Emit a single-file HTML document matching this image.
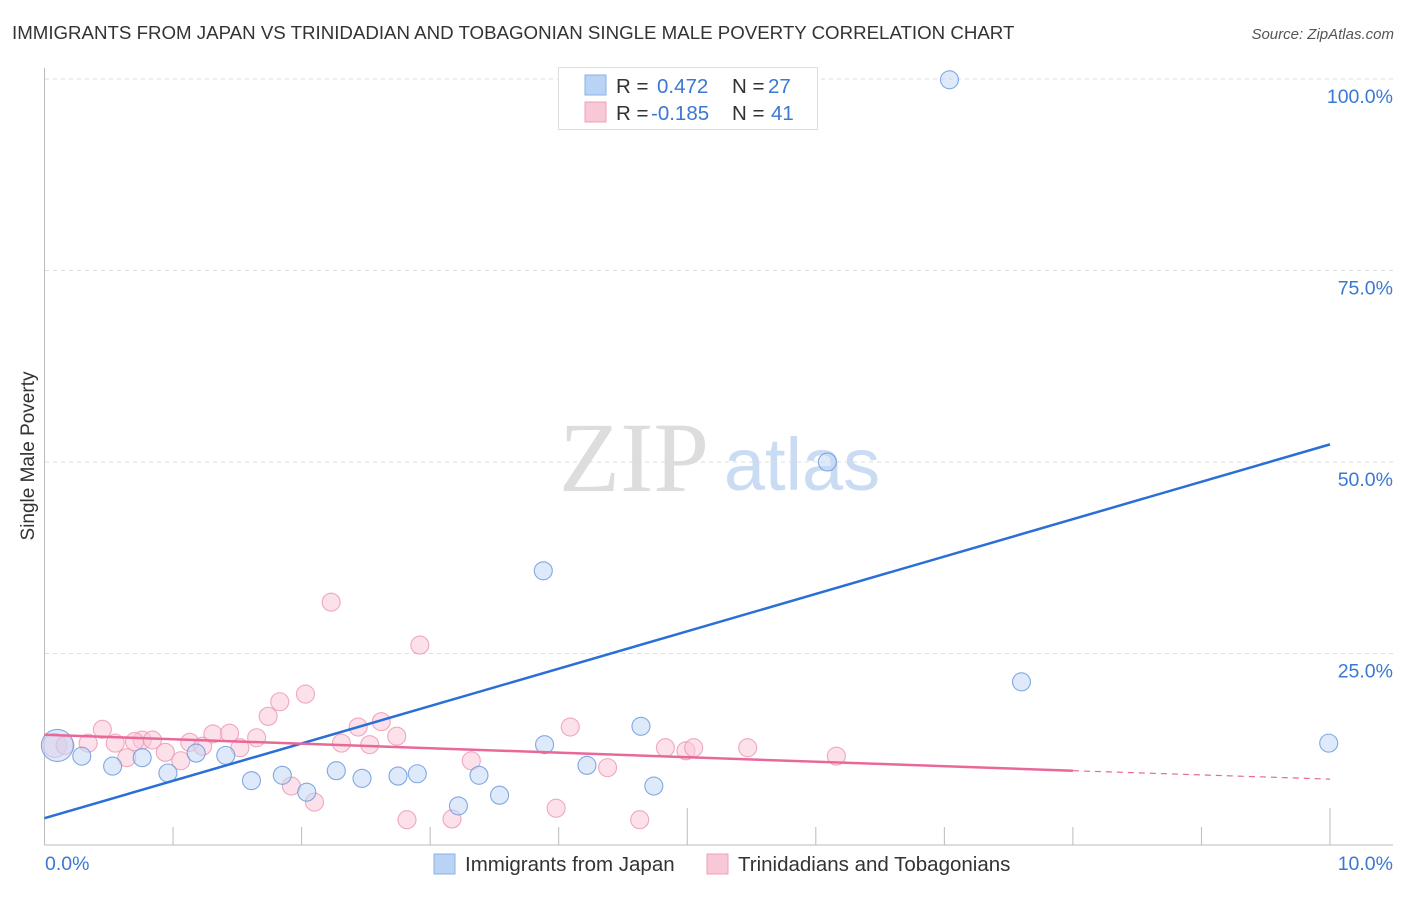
<!DOCTYPE html>
<html><head><meta charset="utf-8"><style>
body{margin:0;background:#fff;font-family:"Liberation Sans",sans-serif}
</style></head><body>
<svg width="1406" height="892" xmlns="http://www.w3.org/2000/svg" style="font-family:'Liberation Sans',sans-serif">
<text x="12" y="39" font-size="18.7" fill="#333">IMMIGRANTS FROM JAPAN VS TRINIDADIAN AND TOBAGONIAN SINGLE MALE POVERTY CORRELATION CHART</text>
<text x="1394" y="39" font-size="15" fill="#555" font-style="italic" text-anchor="end">Source: ZipAtlas.com</text>
<g>
<text x="634" y="491" font-size="100" fill="#ddd" style="font-family:'Liberation Serif',serif" text-anchor="middle">ZIP</text>
<text x="802" y="490" font-size="74" fill="#c9dcf3" text-anchor="middle">atlas</text>
</g>
<g id="grid"></g>
<g id="axes"></g>
<g id="marks"></g>
<text transform="translate(34,456) rotate(-90)" font-size="19" fill="#333" text-anchor="middle">Single Male Poverty</text>
<text x="45" y="870" font-size="19.5" fill="#3a78d4">0.0%</text>
<text x="1393" y="870" font-size="19.5" fill="#3a78d4" text-anchor="end">10.0%</text>
<g>
<rect x="558.5" y="67.5" width="259" height="62" fill="#fff" stroke="#ddd"/>
<rect x="585" y="75" width="21" height="20" fill="#b9d3f5" stroke="#8ab0e8"/>
<rect x="585" y="102" width="21" height="20" fill="#f9c8d6" stroke="#f0a0b8"/>
<text x="616" y="93" font-size="20.5" fill="#333">R = </text><text x="657" y="93" font-size="20.5" fill="#3a78d4">0.472</text>
<text x="732" y="93" font-size="20.5" fill="#333">N = </text><text x="768" y="93" font-size="20.5" fill="#3a78d4">27</text>
<text x="616" y="120" font-size="20.5" fill="#333">R = </text><text x="651" y="120" font-size="20.5" fill="#3a78d4">-0.185</text>
<text x="732" y="120" font-size="20.5" fill="#333">N = </text><text x="771" y="120" font-size="20.5" fill="#3a78d4">41</text>
</g>
<g>
<rect x="434" y="854" width="21" height="20" fill="#b9d3f5" stroke="#8ab0e8"/>
<text x="465" y="871" font-size="20.5" fill="#333">Immigrants from Japan</text>
<rect x="707" y="854" width="21" height="20" fill="#f9c8d6" stroke="#f0a0b8"/>
<text x="738" y="871" font-size="20.5" fill="#333">Trinidadians and Tobagonians</text>
</g>
</svg>
<script>
const yTicks=[25,50,75,100];
const yTickLabels=["25.0%","50.0%","75.0%","100.0%"];
const xTicks=[1,2,3,4,5,6,7,8,9,10];
const japanX=[0.1,0.29,0.53,0.76,0.96,1.18,1.41,1.61,1.85,2.04,2.27,2.47,2.75,2.9,3.22,3.38,3.54,3.88,3.89,4.22,4.64,4.74,5.7,6.09,7.04,7.6,9.99];
const japanY=[13.0,11.6,10.3,11.4,9.4,12.0,11.7,8.4,9.1,6.9,9.7,8.7,9.0,9.3,5.1,9.1,6.5,35.8,13.1,10.4,15.5,7.7,100,50.0,99.9,21.3,13.3];
const triX=[0.08,0.16,0.34,0.45,0.55,0.64,0.76,0.84,0.94,1.06,1.13,1.23,1.31,1.44,1.52,1.65,1.74,1.83,2.03,1.92,2.1,2.23,2.31,2.44,2.53,2.62,2.74,2.82,2.92,3.17,3.32,3.98,4.09,4.38,4.63,4.83,4.99,5.05,5.47,6.16,0.7];
const triY=[13,13,13.3,15.1,13.3,11.4,13.7,13.7,12.1,11.0,13.4,12.9,14.5,14.6,12.7,14.0,16.8,18.7,19.7,7.7,5.6,31.7,13.3,15.4,13.1,16.1,14.2,3.3,26.1,3.4,11.0,4.8,15.4,10.1,3.3,12.7,12.3,12.7,12.7,11.6,13.5];
const japanLine=[[0,3.5],[10,52.3]];
const triLine=[[0,14.4],[8,9.7]];
const triDash=[[8,9.7],[10,8.6]];
const NS="http://www.w3.org/2000/svg";
const X=v=>44.5+v*128.55, Y=v=>845-v*7.66;
function mk(t,a,p){const e=document.createElementNS(NS,t);for(const k in a)e.setAttribute(k,a[k]);p.appendChild(e);return e;}
const grid=document.getElementById('grid'),axes=document.getElementById('axes'),marks=document.getElementById('marks');
yTicks.forEach((t,i)=>{
 const l=mk('line',{x1:45,x2:1393,y1:Y(t),y2:Y(t),stroke:'#ddd','stroke-dasharray':'4,4'},grid);
 
 
 const tx=mk('text',{x:1393,y:Y(t)+24,'font-size':19.5,fill:'#3a78d4','text-anchor':'end'},grid);
 tx.textContent=yTickLabels[i];
 
 
});
const ax=mk('line',{x1:44.5,x2:44.5,y1:68,y2:845,stroke:'#bbb'},axes);


const bx=mk('line',{x1:44.5,x2:1393,y1:845,y2:845,stroke:'#bbb'},axes);


xTicks.forEach((t)=>{
 const tk=mk('line',{x1:X(t),x2:X(t),y1:(t%5===0?808:827),y2:845,stroke:'#bbb'},axes);
 
 
});
function pts(xs,ys,fill,stroke,name){
 xs.forEach((x,i)=>{
  const r=(i===0&&name==='japan-point')?16:(i===0?12:9);
  const c=mk('circle',{cx:X(x),cy:Y(ys[i]),r:r,fill:fill,'fill-opacity':0.55,stroke:stroke,'stroke-width':1.1,'stroke-opacity':0.8},marks);
  
  
 });
}
pts(triX,triY,'#f9c8d8','#eb95b0','trinidad-point');
pts(japanX,japanY,'#c3d9f6','#6495dc','japan-point');
function ln(p,color,name,dash){
 const l=mk('line',{x1:X(p[0][0]),y1:Y(p[0][1]),x2:X(p[1][0]),y2:Y(p[1][1]),stroke:color,'stroke-width':dash?1.2:2.5},marks);
 if(dash)l.setAttribute('stroke-dasharray','6,5');
 
 
}
ln(japanLine,'#2a6fd6','japan-trendline');
ln(triLine,'#e8689a','trinidad-trendline');
ln(triDash,'#e8689a','trinidad-trendline-extension',true);
</script>
</body></html>
